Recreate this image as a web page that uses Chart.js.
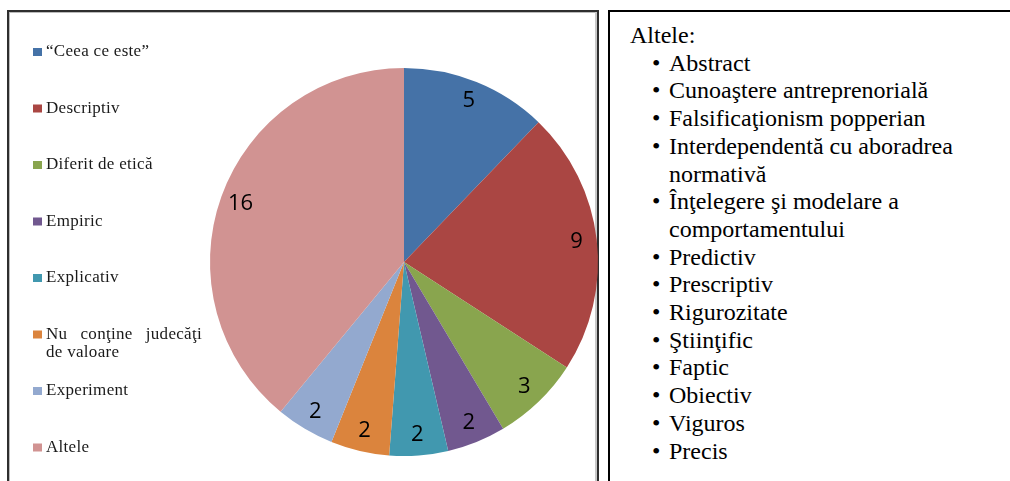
<!DOCTYPE html>
<html>
<head>
<meta charset="utf-8">
<script src="https://cdn.jsdelivr.net/npm/chart.js@4"></script>
<style>
    body{margin:0;background:#fff;width:1010px;height:481px;overflow:hidden;position:relative;}
    #leftBox{position:absolute;left:7px;top:10px;width:588px;height:480px;border:2px solid #2e2e2e;border-bottom:none;box-shadow:inset -2px 0 0 #c8c8c8, inset 1px 1px 0 #bbb;}
    #rightBox{position:absolute;left:608px;top:10px;width:420px;height:480px;border:2px solid #000;border-bottom:none;
        font-family:'Liberation Serif','Times New Roman',Tinos,serif;font-size:24px;line-height:27.7px;color:#000;}
    #rightBox .title{position:absolute;left:20px;top:10px;}
    #rightBox ul{position:absolute;left:22px;top:37.7px;margin:0;padding:0;list-style:none;width:340px;}
    #rightBox li{position:relative;padding-left:37px;}
    #rightBox li:before{content:"•";position:absolute;left:20px;top:0;}
    #pie{position:absolute;left:0;top:0;}
</style>
</head>
<body>
<div id="leftBox"></div>
<div id="rightBox">
    <div class="title">Altele:</div>
    <ul id="otherList"></ul>
</div>
<canvas id="pie" width="1010" height="481"></canvas>
<script>
// categorii si valori
let categories = ["“Ceea ce este”", "Descriptiv", "Diferit de etică", "Empiric", "Explicativ", "Nu conţine judecăţi de valoare", "Experiment", "Altele"];
let counts = [5, 9, 3, 2, 2, 2, 2, 16];
let sliceColors = ["#4572A7", "#AA4643", "#89A54E", "#71588F", "#4198AF", "#DB843D", "#93A9CF", "#D19392"];
let otherItems = ["Abstract", "Cunoaştere antreprenorială", "Falsificaţionism popperian", "Interdependentă cu aboradrea normativă", "Înţelegere şi modelare a comportamentului", "Predictiv", "Prescriptiv", "Rigurozitate", "Ştiinţific", "Faptic", "Obiectiv", "Viguros", "Precis"];

for(let i=0; i<otherItems.length; i++){
    let li = document.createElement("li");
    li.textContent = otherItems[i];
    document.getElementById("otherList").appendChild(li);
}

// etichetele cu valori pe felii
let sliceLabels = {
    id:"sliceLabels",
    afterDatasetsDraw:function(chart){
        let ctx = chart.ctx;
        let arcs = chart.getDatasetMeta(0).data;
        ctx.save();
        ctx.font = "22px 'Open Sans', sans-serif";
        ctx.fillStyle = "#000";
        ctx.textAlign = "center";
        ctx.textBaseline = "middle";
        for(let i=0; i<arcs.length; i++){
            let p = arcs[i].getProps(["x", "y", "startAngle", "endAngle", "outerRadius"], true);
            let mid = (p.startAngle + p.endAngle)/2;
            let r = p.outerRadius*0.895;
            ctx.fillText(String(counts[i]), p.x + Math.cos(mid)*r, p.y + Math.sin(mid)*r);
        }
        ctx.restore();
    }
};

// legenda din stanga
let sideLegend = {
    id:"sideLegend",
    afterDraw:function(chart){
        let ctx = chart.ctx;
        ctx.save();
        ctx.font = "17px 'Liberation Serif'";
        ctx.letterSpacing = "0.3px";
        ctx.fillStyle = "#1a1a1a";
        ctx.textBaseline = "middle";
        let maxW = 156;
        for(let i=0; i<categories.length; i++){
            let cy = 52 + i*56.5;
            ctx.fillStyle = sliceColors[i];
            ctx.fillRect(33, cy-4, 9, 8);
            ctx.fillStyle = "#1a1a1a";
            // impartire pe randuri
            let words = categories[i].split(" ");
            let lines = [];
            let cur = [];
            for(let w=0; w<words.length; w++){
                let test = cur.concat(words[w]).join(" ");
                if(ctx.measureText(test).width > maxW && cur.length > 0){
                    lines.push(cur);
                    cur = [words[w]];
                } else {
                    cur.push(words[w]);
                }
            }
            lines.push(cur);
            for(let l=0; l<lines.length; l++){
                let y = cy + l*18;
                if(l < lines.length-1 && lines[l].length > 1){
                    let total = 0;
                    for(let w=0; w<lines[l].length; w++) total += ctx.measureText(lines[l][w]).width;
                    let gap = (maxW - total)/(lines[l].length-1);
                    let x = 46;
                    for(let w=0; w<lines[l].length; w++){
                        ctx.fillText(lines[l][w], x, y);
                        x += ctx.measureText(lines[l][w]).width + gap;
                    }
                } else {
                    ctx.fillText(lines[l].join(" "), 46, y);
                }
            }
        }
        ctx.restore();
    }
};

function drawPie(){
    let pieChart = new Chart(document.getElementById("pie"), {
        type:"pie",
        data:{
            labels:categories,
            datasets:[{
                data:counts,
                backgroundColor:sliceColors,
                borderWidth:0
            }]
        },
        options:{
            responsive:false,
            animation:false,
            layout:{
                padding:{left:210, right:412, top:68, bottom:25}
            },
            plugins:{
                legend:{display:false},
                tooltip:{enabled:false}
            }
        },
        plugins:[sliceLabels, sideLegend]
    });
}

Promise.all([
    document.fonts.load("17px 'Liberation Serif'"),
    document.fonts.load("22px 'Open Sans'")
]).then(drawPie, drawPie);
</script>
</body>
</html>
